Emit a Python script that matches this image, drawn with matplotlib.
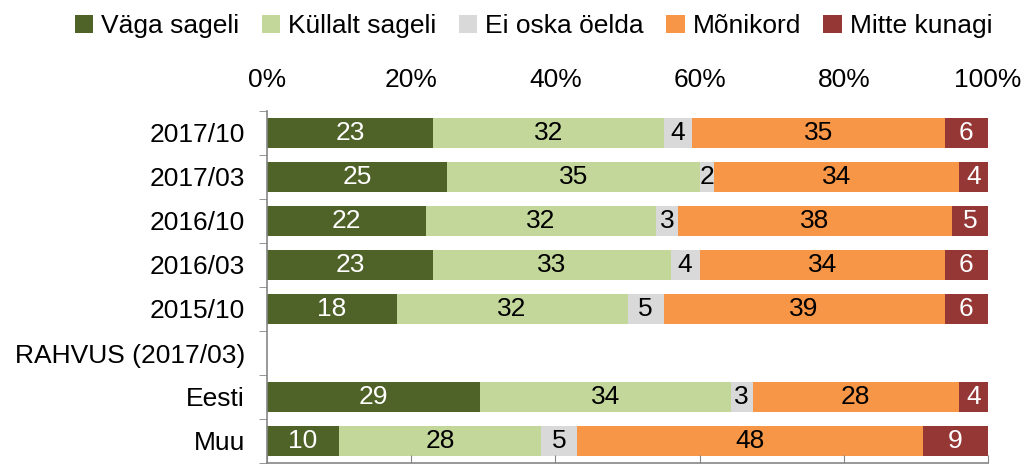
import numpy as np
import matplotlib
matplotlib.use("Agg")
from matplotlib import pyplot as plt
from matplotlib.ticker import FixedLocator, PercentFormatter

plt.rcParams['font.family'] = ['Liberation Sans', 'DejaVu Sans']

categories = ["2017/10", "2017/03", "2016/10", "2016/03", "2015/10",
              "RAHVUS (2017/03)", "Eesti", "Muu"]
series_names = ["Väga sageli", "Küllalt sageli", "Ei oska öelda", "Mõnikord", "Mitte kunagi"]
vaga = [23, 25, 22, 23, 18, 0, 29, 10]
kullalt = [32, 35, 32, 33, 32, 0, 34, 28]
ei_oska = [4, 2, 3, 4, 5, 0, 3, 5]
monikord = [35, 34, 38, 34, 39, 0, 28, 48]
mitte = [6, 4, 5, 6, 6, 0, 4, 9]

colours = ["#4F6228", "#C4D79B", "#D9D9D9", "#F79646", "#953735"]
text_colours = ["white", "black", "black", "black", "white"]
fs = 19

data = np.array([vaga, kullalt, ei_oska, monikord, mitte], dtype=float)
totals = data.sum(axis=0)
totals[totals == 0] = 1
shares = data / totals * 100   # 100% stacked, like the original

fig = plt.figure(figsize=(10.36, 4.67), dpi=100)
ax = fig.add_axes([267/1036, 4/467, (988-267)/1036, (463-111)/467])

y = np.arange(len(categories))
left = np.zeros(len(categories))
handles = []
for i in range(len(series_names)):
    bars = ax.barh(y, shares[i], left=left, height=0.68, color=colours[i],
                   label=series_names[i])
    handles.append(bars)
    for j in range(len(categories)):
        if data[i, j] > 0:
            ax.text(left[j] + shares[i, j] / 2, y[j], "%d" % data[i, j],
                    ha='center', va='center', fontsize=fs, color=text_colours[i])
    left += shares[i]

ax.set_xlim(0, 100)
ax.set_ylim(len(categories) - 0.5, -0.5)
ax.set_yticks(y)
ax.set_yticklabels(categories, fontsize=fs)
ax.yaxis.set_minor_locator(FixedLocator(np.arange(-0.5, len(categories), 1)))
ax.tick_params(axis='y', which='major', length=0, pad=16)
ax.tick_params(axis='y', which='minor', length=6, direction='out', color='#868686')

ax.set_xticks(np.arange(0, 101, 20))
ax.xaxis.set_major_formatter(PercentFormatter(decimals=0))
ax.tick_params(axis='x', top=False, labeltop=True, bottom=True, labelbottom=False,
               direction='in', length=6, color='#868686', labelsize=fs, pad=14)

for s in ['top', 'right']:
    ax.spines[s].set_visible(False)
for s in ['left', 'bottom']:
    ax.spines[s].set_color('#868686')
    ax.spines[s].set_linewidth(1.2)

fig.legend(handles=handles, loc='center', bbox_to_anchor=(0.515, 0.944), ncol=5,
           frameon=False, fontsize=fs, handlelength=0.7, handleheight=0.7,
           handletextpad=0.3, columnspacing=0.85)

plt.savefig("out.png", dpi=100)
